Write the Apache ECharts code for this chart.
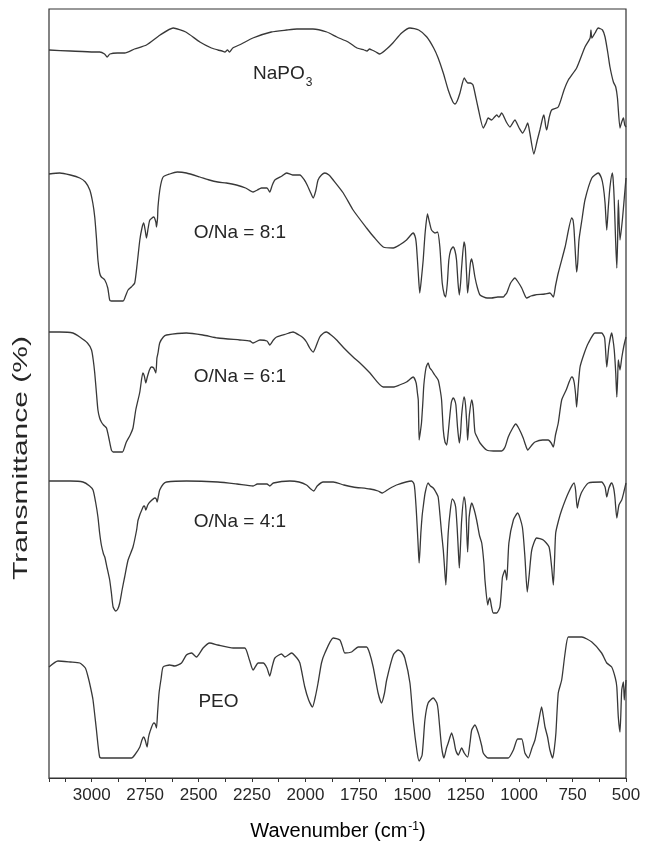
<!DOCTYPE html>
<html lang="en">
<head>
    <meta charset="UTF-8">
    <title>FTIR</title>
    <script src="https://cdn.jsdelivr.net/npm/echarts@6/dist/echarts.min.js"></script>
    <style>
        html, body { margin: 0; padding: 0; background: #fff; }
    </style>
</head>
<body>
<div id="chart" style="width: 645px;height: 844px"></div>

<script type="text/javascript">
    // spectra: [wavenumber (cm-1), transmittance (offset, arb. units)]
    var naPO3 = [
        [3200, 728], [3100, 727], [2990, 726], [2963, 726], [2940, 724], [2928, 721], [2915, 724], [2880, 725],
        [2846, 725], [2800, 729], [2744, 733], [2680, 743], [2619, 750], [2560, 746], [2494, 736], [2440, 730],
        [2410, 728], [2390, 727], [2377, 726], [2365, 728], [2355, 726], [2340, 730], [2300, 734], [2246, 740],
        [2160, 746], [2087, 748], [2040, 749], [1965, 749], [1900, 746], [1853, 741], [1800, 736], [1759, 730],
        [1725, 728], [1712, 727], [1700, 729], [1689, 728], [1670, 726], [1652, 724], [1620, 729], [1591, 735],
        [1550, 745], [1511, 750], [1470, 748], [1432, 741], [1400, 730], [1379, 720], [1355, 705], [1332, 688],
        [1310, 676], [1300, 674], [1290, 677], [1277, 685], [1257, 700], [1248, 697], [1240, 695], [1228, 695],
        [1216, 693], [1205, 683], [1193, 671], [1168, 650], [1155, 655], [1145, 660], [1129, 658], [1115, 661],
        [1105, 663], [1095, 661], [1082, 665], [1060, 656], [1043, 651], [1030, 655], [1020, 658], [1000, 650],
        [984, 645], [970, 650], [960, 655], [950, 645], [931, 624], [915, 638], [903, 648], [890, 660], [884, 663],
        [876, 652], [871, 648], [860, 660], [848, 668], [817, 671], [790, 688], [770, 698], [731, 710], [692, 731],
        [668, 740], [664, 748], [660, 740], [645, 745], [630, 750], [610, 748], [598, 741], [585, 725], [575, 711],
        [559, 696], [548, 691], [540, 680], [528, 650], [520, 656], [512, 660], [506, 653], [500, 651]
    ];
    var ratio8 = [
        [3200, 604], [3150, 605], [3100, 603], [3056, 600], [3030, 596], [3009, 588], [2995, 575], [2986, 561],
        [2978, 540], [2971, 518], [2963, 505], [2955, 501], [2939, 498], [2925, 490], [2916, 478], [2908, 477],
        [2880, 477], [2853, 477], [2840, 483], [2830, 488], [2815, 491], [2799, 495], [2787, 515], [2775, 538],
        [2765, 550], [2757, 555], [2750, 548], [2744, 540], [2736, 550], [2728, 558], [2710, 561], [2700, 556],
        [2697, 551], [2692, 560], [2690, 571], [2680, 590], [2666, 601], [2635, 604], [2600, 606], [2557, 605],
        [2494, 601], [2450, 598], [2410, 596], [2370, 595], [2323, 593], [2280, 590], [2245, 586], [2225, 588],
        [2206, 590], [2180, 590], [2167, 586], [2155, 593], [2143, 598], [2110, 602], [2088, 605], [2060, 603],
        [2026, 603], [2005, 598], [1992, 593], [1975, 585], [1964, 580], [1952, 587], [1941, 598], [1925, 603],
        [1909, 605], [1890, 603], [1870, 598], [1823, 585], [1777, 568], [1714, 550], [1680, 541], [1636, 531],
        [1589, 530], [1560, 533], [1527, 538], [1496, 545], [1485, 540], [1480, 531], [1472, 505], [1465, 485],
        [1457, 500], [1449, 518], [1440, 545], [1429, 564], [1420, 556], [1410, 548], [1394, 545], [1382, 546],
        [1371, 531], [1360, 495], [1350, 483], [1344, 481], [1336, 495], [1329, 518], [1320, 528], [1309, 531],
        [1300, 527], [1293, 518], [1286, 495], [1280, 483], [1274, 495], [1269, 511], [1258, 536], [1252, 530],
        [1249, 518], [1244, 495], [1241, 485], [1236, 495], [1234, 501], [1228, 515], [1222, 519], [1215, 512],
        [1207, 501], [1195, 490], [1183, 483], [1150, 480], [1129, 480], [1100, 481], [1074, 481], [1066, 483],
        [1058, 485], [1040, 495], [1020, 500], [1005, 496], [988, 490], [976, 484], [965, 480], [945, 482],
        [926, 483], [880, 484], [856, 485], [840, 481], [830, 492], [817, 505], [785, 531], [754, 560], [748, 558],
        [743, 548], [737, 525], [731, 506], [726, 515], [720, 538], [705, 560], [692, 578], [660, 600], [630, 605],
        [615, 600], [606, 591], [598, 575], [590, 548], [583, 570], [575, 591], [564, 605], [560, 598], [555, 578],
        [549, 540], [543, 510], [539, 540], [536, 578], [528, 538], [517, 558], [508, 580], [500, 600]
    ];
    var ratio6 = [
        [3200, 446], [3150, 446], [3088, 445], [3056, 441], [3020, 435], [3001, 428], [2993, 418], [2986, 405],
        [2978, 385], [2971, 368], [2963, 360], [2955, 356], [2945, 353], [2931, 350], [2920, 340], [2908, 328],
        [2900, 326], [2870, 326], [2856, 326], [2846, 331], [2838, 336], [2820, 343], [2807, 350], [2794, 368],
        [2775, 386], [2761, 405], [2754, 402], [2747, 395], [2740, 401], [2730, 408], [2721, 411], [2710, 410],
        [2700, 405], [2695, 420], [2690, 425], [2682, 435], [2665, 441], [2650, 443], [2557, 445], [2480, 443],
        [2410, 440], [2307, 438], [2260, 437], [2245, 435], [2213, 438], [2180, 437], [2167, 433], [2150, 438],
        [2135, 441], [2090, 444], [2058, 446], [2030, 443], [2010, 440], [1995, 436], [1980, 430], [1964, 426],
        [1950, 432], [1933, 441], [1915, 445], [1901, 446], [1880, 443], [1854, 438], [1820, 430], [1777, 421],
        [1740, 414], [1698, 405], [1636, 391], [1589, 391], [1560, 393], [1527, 396], [1496, 401], [1482, 395],
        [1476, 385], [1472, 378], [1468, 338], [1463, 345], [1457, 355], [1450, 378], [1446, 393], [1436, 410],
        [1426, 415], [1418, 410], [1410, 408], [1395, 403], [1379, 398], [1371, 390], [1363, 378], [1355, 348],
        [1347, 336], [1339, 333], [1332, 345], [1324, 363], [1317, 376], [1309, 380], [1302, 378], [1296, 373],
        [1288, 350], [1280, 335], [1274, 345], [1269, 363], [1258, 381], [1253, 377], [1249, 368], [1244, 350],
        [1241, 338], [1237, 350], [1233, 363], [1222, 378], [1215, 370], [1207, 346], [1195, 340], [1183, 335],
        [1152, 328], [1120, 327], [1082, 327], [1066, 331], [1051, 341], [1030, 350], [1016, 354], [1000, 349],
        [981, 340], [970, 333], [960, 328], [940, 333], [926, 336], [890, 338], [864, 338], [850, 335], [840, 331],
        [830, 343], [817, 355], [801, 378], [780, 388], [754, 401], [748, 400], [742, 395], [736, 384], [731, 371],
        [724, 390], [715, 411], [695, 425], [676, 435], [645, 445], [614, 445], [600, 440], [590, 411], [580, 432],
        [567, 445], [562, 440], [555, 428], [548, 405], [543, 381], [539, 400], [536, 418], [528, 408], [520, 420],
        [510, 432], [500, 441]
    ];
    var ratio4 = [
        [3200, 297], [3100, 297], [3041, 296], [3010, 292], [2994, 288], [2982, 276], [2971, 261], [2963, 245],
        [2955, 233], [2945, 224], [2939, 221], [2928, 210], [2916, 198], [2908, 185], [2900, 171], [2888, 167],
        [2878, 169], [2869, 175], [2858, 188], [2846, 201], [2830, 218], [2807, 231], [2790, 248], [2783, 258],
        [2760, 271], [2753, 272], [2747, 268], [2738, 273], [2728, 276], [2705, 280], [2698, 279], [2694, 276],
        [2688, 282], [2682, 288], [2665, 294], [2650, 296], [2557, 297], [2410, 296], [2320, 294], [2245, 292],
        [2225, 294], [2204, 294], [2180, 294], [2167, 292], [2150, 295], [2073, 297], [2030, 296], [1995, 293],
        [1975, 289], [1961, 287], [1945, 292], [1917, 296], [1870, 296], [1820, 293], [1777, 291], [1698, 289],
        [1660, 287], [1641, 285], [1610, 289], [1574, 293], [1503, 297], [1492, 294], [1488, 288], [1482, 270],
        [1477, 251], [1472, 230], [1468, 215], [1464, 228], [1460, 245], [1454, 262], [1449, 271], [1440, 285],
        [1426, 295], [1415, 292], [1402, 290], [1390, 286], [1379, 281], [1370, 262], [1363, 245], [1355, 228],
        [1349, 210], [1343, 193], [1338, 215], [1332, 245], [1322, 268], [1313, 279], [1305, 277], [1297, 271],
        [1290, 250], [1284, 225], [1280, 210], [1275, 230], [1269, 258], [1258, 281], [1253, 277], [1249, 268],
        [1245, 245], [1241, 226], [1237, 245], [1234, 261], [1222, 275], [1210, 268], [1199, 258], [1185, 242],
        [1175, 235], [1165, 215], [1160, 198], [1147, 173], [1142, 178], [1137, 180], [1130, 172], [1121, 165],
        [1105, 165], [1090, 171], [1082, 190], [1078, 201], [1066, 208], [1058, 198], [1048, 235], [1027, 258],
        [1007, 265], [985, 251], [973, 221], [962, 186], [953, 203], [941, 228], [918, 240], [887, 238], [860, 231],
        [848, 211], [840, 193], [834, 220], [829, 245], [815, 258], [801, 268], [770, 285], [743, 295], [736, 288],
        [728, 270], [720, 278], [707, 286], [676, 295], [614, 296], [598, 291], [590, 281], [580, 290], [567, 295],
        [558, 290], [552, 281], [543, 260], [533, 273], [520, 278], [510, 286], [500, 295]
    ];
    var peo = [
        [3200, 111], [3158, 117], [3100, 116], [3056, 115], [3030, 110], [3017, 101], [3005, 90], [2994, 78],
        [2978, 48], [2963, 21], [2947, 20], [2880, 20], [2814, 20], [2799, 23], [2775, 31], [2765, 38], [2757, 41],
        [2750, 38], [2741, 31], [2735, 40], [2728, 46], [2710, 55], [2703, 54], [2697, 50], [2692, 65], [2685, 85],
        [2675, 100], [2666, 111], [2635, 113], [2612, 112], [2580, 115], [2557, 123], [2533, 125], [2510, 121],
        [2479, 130], [2448, 135], [2410, 133], [2338, 130], [2284, 130], [2262, 118], [2245, 108], [2221, 115],
        [2198, 115], [2180, 110], [2167, 102], [2155, 112], [2143, 120], [2112, 124], [2096, 121], [2065, 125],
        [2040, 120], [2026, 115], [2003, 91], [1985, 78], [1967, 71], [1955, 80], [1941, 95], [1925, 115],
        [1909, 125], [1870, 140], [1839, 138], [1825, 130], [1816, 125], [1784, 126], [1753, 131], [1714, 131],
        [1700, 125], [1683, 111], [1660, 85], [1644, 75], [1630, 85], [1620, 98], [1589, 123], [1566, 128],
        [1550, 126], [1535, 120], [1511, 95], [1496, 58], [1477, 25], [1468, 17], [1454, 23], [1441, 58],
        [1426, 75], [1402, 80], [1385, 75], [1379, 68], [1363, 31], [1352, 20], [1340, 30], [1332, 35], [1316, 45],
        [1305, 37], [1297, 28], [1285, 23], [1269, 30], [1257, 25], [1241, 21], [1230, 35], [1222, 48], [1207, 53],
        [1191, 45], [1175, 32], [1168, 25], [1145, 20], [1100, 20], [1051, 20], [1027, 28], [1007, 39], [988, 39],
        [973, 25], [957, 20], [940, 30], [926, 38], [910, 55], [895, 71], [887, 62], [879, 51], [867, 41], [856, 28],
        [843, 20], [835, 30], [828, 45], [817, 85], [801, 98], [785, 125], [770, 141], [740, 141], [707, 141],
        [660, 136], [614, 125], [590, 115], [567, 111], [550, 100], [543, 91], [536, 61], [528, 46], [520, 88],
        [512, 96], [508, 78], [500, 98]
    ];

    // sample labels: text, wavenumber, transmittance of the label centre
    var labelText = ['{m|NaPO}{s|3}', 'O/Na = 8:1', 'O/Na = 6:1', 'O/Na = 4:1', 'PEO'];
    var labelWn = [2106, 2307, 2307, 2307, 2407];
    var labelT = [703, 545, 401, 256, 76];

    var spectra = [naPO3, ratio8, ratio6, ratio4, peo];
    var FONT = '"Liberation Sans", Arial, Helvetica, sans-serif';
    var INK = '#262626';

    var chart = echarts.init(document.getElementById('chart'), null, {renderer: 'canvas'});

    chart.setOption({
        animation: false,
        backgroundColor: '#fff',
        grid: {
            left: 49, right: 19, top: 9, bottom: 66,
            show: true, borderColor: '#333', borderWidth: 1.2
        },
        xAxis: {
            type: 'value',
            min: 500, max: 3200, interval: 125,
            inverse: true,
            axisLine: {show: true, onZero: false, lineStyle: {color: '#333', width: 1.2}},
            axisTick: {show: true, inside: false, length: 4, lineStyle: {color: '#333', width: 1}},
            axisLabel: {
                margin: 9,
                color: INK,
                fontFamily: FONT,
                fontSize: 17,
                formatter: function (v) {
                    return (v % 250 === 0 && v <= 3000) ? String(v) : '';
                }
            },
            splitLine: {show: false}
        },
        yAxis: {
            type: 'value', min: 0, max: 769, show: false
        },
        series: spectra.map(function (d) {
            return {
                type: 'line',
                data: d,
                showSymbol: false,
                smooth: 0.2,
                lineStyle: {color: '#383838', width: 1.3},
                silent: true
            };
        })
    });

    // texts: axis titles and sample names
    var graphics = [
        {
            type: 'text',
            x: 338, y: 833,
            style: {
                text: '{m|Wavenumber (cm}{s|-1}{m|)}',
                textAlign: 'center', textVerticalAlign: 'middle',
                rich: {
                    m: {fontFamily: FONT, fontSize: 20, lineHeight: 24, color: INK, verticalAlign: 'top'},
                    s: {fontFamily: FONT, fontSize: 12, lineHeight: 12, color: INK, verticalAlign: 'top', padding: [0, 0, 0, 1]}
                }
            }
        },
        {
            type: 'text',
            x: 21, y: 458,
            rotation: Math.PI / 2,
            scaleX: 1.5,
            style: {
                text: 'Transmittance (%)',
                fontFamily: FONT, fontSize: 20, fill: INK,
                textAlign: 'center', textVerticalAlign: 'middle'
            }
        }
    ];
    labelText.forEach(function (t, i) {
        var p = chart.convertToPixel({gridIndex: 0}, [labelWn[i], labelT[i]]);
        graphics.push({
            type: 'text',
            x: p[0], y: p[1],
            style: {
                text: t,
                fontFamily: FONT, fontSize: 19, fill: INK,
                textAlign: 'center', textVerticalAlign: 'middle',
                rich: {
                    m: {fontFamily: FONT, fontSize: 19, lineHeight: 22, color: INK, verticalAlign: 'top'},
                    s: {fontFamily: FONT, fontSize: 12, lineHeight: 12, color: INK, verticalAlign: 'top', padding: [13, 0, 0, 1]}
                }
            }
        });
    });
    chart.setOption({graphic: graphics});
</script>
</body>
</html>
